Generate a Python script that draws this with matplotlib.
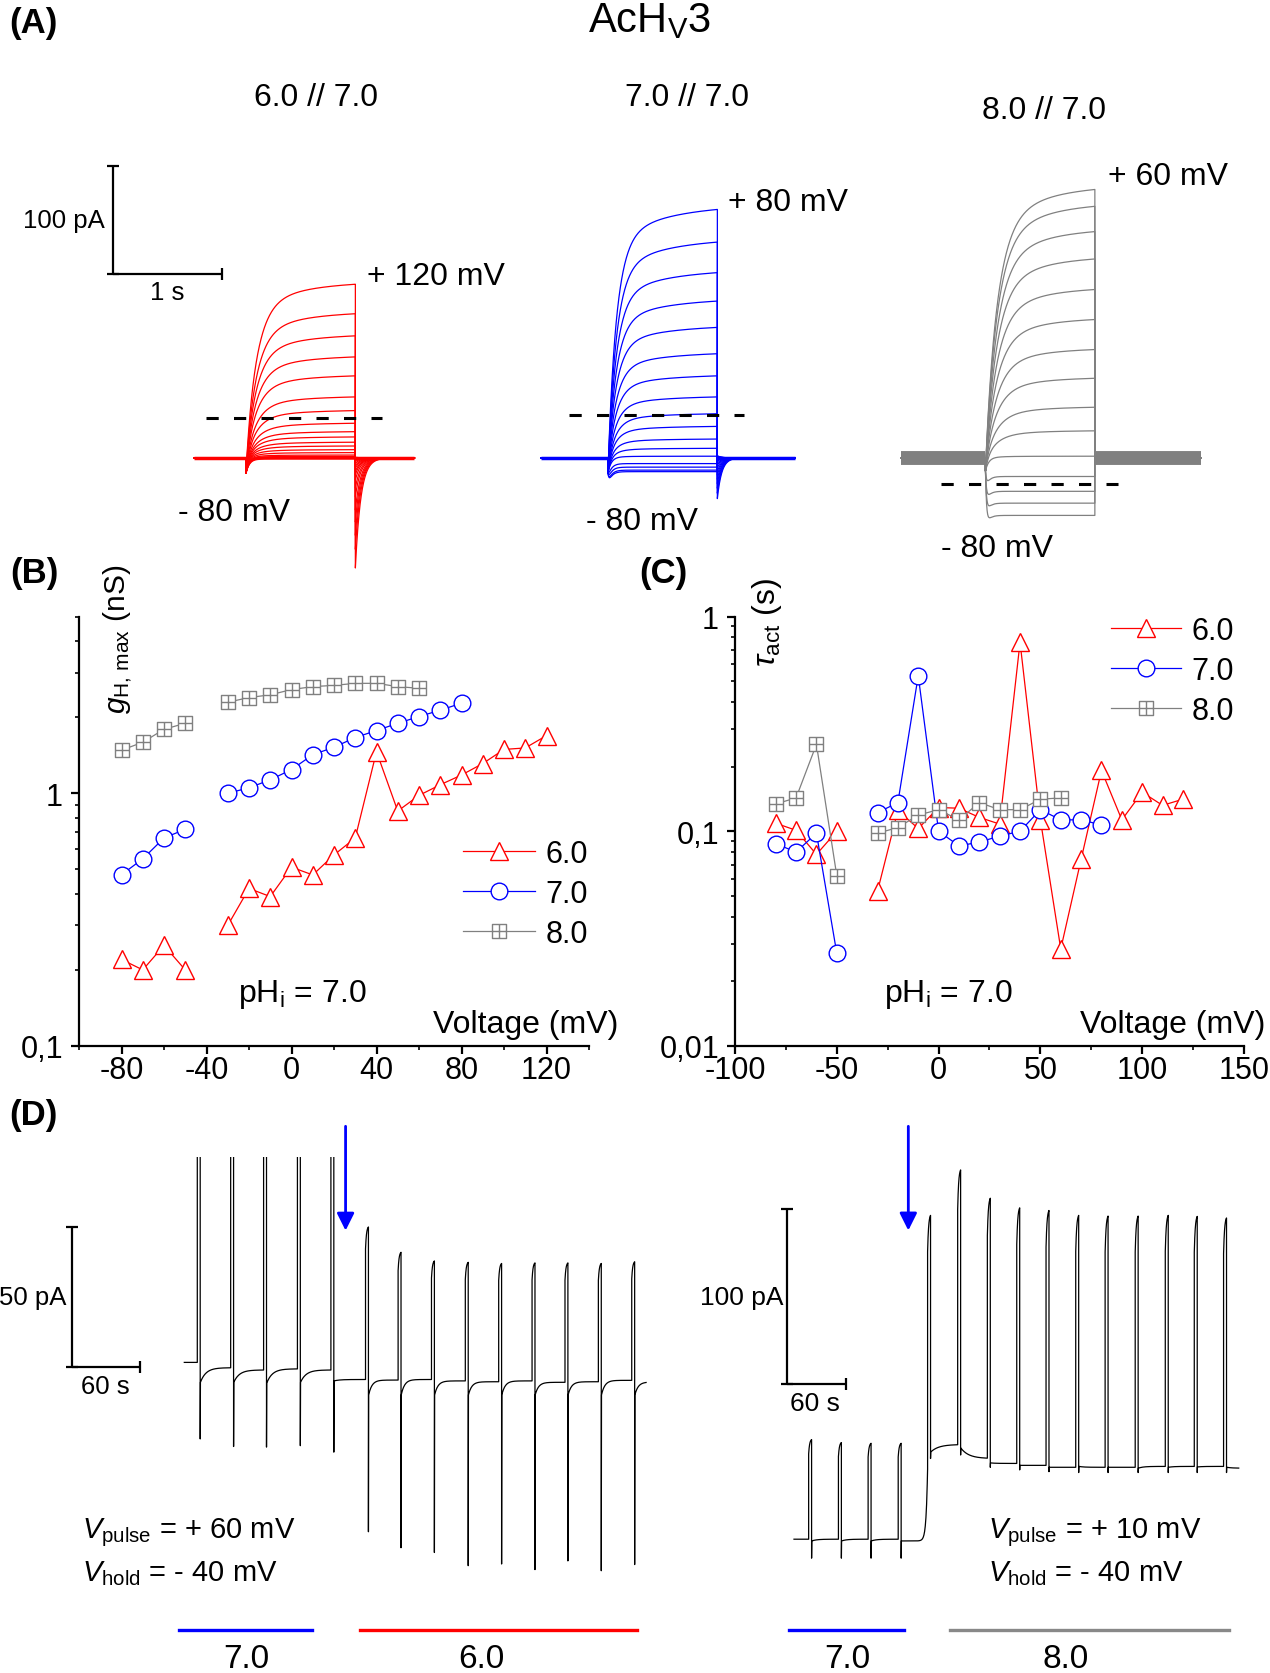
import numpy as np
import matplotlib
matplotlib.use("Agg")
import matplotlib.pyplot as plt
from matplotlib.path import Path
from matplotlib.ticker import LogLocator, NullFormatter

plt.rcParams['font.family'] = ['Liberation Sans', 'DejaVu Sans']
plt.rcParams['mathtext.fontset'] = 'custom'
plt.rcParams['mathtext.rm'] = 'Liberation Sans'
plt.rcParams['mathtext.it'] = 'Liberation Sans:italic'
plt.rcParams['mathtext.bf'] = 'Liberation Sans:bold'
plt.rcParams['axes.unicode_minus'] = False

RED, BLUE, GRAY = '#ff0000', '#0000ff', '#808080'

# ---------------- data ----------------
# (A) current at end of the 1 s step (pA), most positive step first
amp_red = [165, 137, 116, 96, 78, 58, 45, 33, 25, 20, 15, 11.4, 7.9, 5.1, 2.8, 1.5, 0.8, 0.3, 0, -0.5, -1]  # +120..-80 mV
amp_blue = [236, 205, 176, 149, 124, 99, 78, 58, 42, 30, 18, 9.2, 1.7, -5.2, -8.5, -11.3, -12.7]      # +80..-80 mV
amp_gray = [255, 239, 215, 189, 160, 131.5, 103, 75.7, 48.2, 25.8, 1.7, -17.2, -31, -42, -53.4]      # +60..-80 mV
dash_level = [37, 39.6, -24]   # pA, dashed reference lines (red, blue, gray)

# (B) and (C)
volt = [-80, -70, -60, -50, -40, -30, -20, -10, 0, 10, 20, 30, 40, 50, 60, 70, 80, 90, 100, 110, 120]
nan = np.nan
g_60 = [0.22, 0.20, 0.25, 0.20, nan, 0.30, 0.42, 0.39, 0.51, 0.475, 0.57, 0.665, 1.46, 0.85, 0.98,
        1.08, 1.18, 1.31, 1.49, 1.51, 1.69]
g_70 = [0.476, 0.55, 0.665, 0.72, nan, 1.0, 1.05, 1.13, 1.24, 1.42, 1.52, 1.66, 1.77, 1.89, 2.01,
        2.13, 2.27]
g_80 = [1.48, 1.59, 1.79, 1.89, nan, 2.29, 2.39, 2.45, 2.57, 2.64, 2.67, 2.72, 2.72, 2.64, 2.60]
tau_60 = [0.109, 0.101, 0.078, 0.100, nan, 0.0526, 0.125, 0.103, 0.129, 0.128, 0.116, 0.108, 0.759,
          0.113, 0.0283, 0.074, 0.192, 0.113, 0.152, 0.132, 0.141]
tau_70 = [0.0875, 0.080, 0.098, 0.027, nan, 0.122, 0.136, 0.53, 0.100, 0.0855, 0.089, 0.095, 0.100,
          0.126, 0.113, 0.113, 0.107]
tau_80 = [0.134, 0.143, 0.254, 0.062, nan, 0.098, 0.104, 0.119, 0.126, 0.113, 0.136, 0.126, 0.126,
          0.141, 0.143]

# (D) left: pH 7.0 -> 6.0, pulses to +60 mV (times in s, currents in pA)
dl_pulse_t = [11.6, 41.4, 70.8, 101.0, 130.9, 161.8, 190.9, 220.7, 250.9, 280.7, 310.5, 339.9, 369.7, 399.5]
dl_peak = [150, 150, 150, 150, 150, 55.3, 46.2, 43.1, 42.6, 42.2, 42.4, 42.4, 42.2, 42.8]
dl_dip = [-20.7, -23.4, -23.6, -23.1, -25.4, -53.8, -59.5, -61.2, -65.9, -65.3, -67.3, -64.2, -67.7, -65.5]
dl_hold_start = [6.6, -0.5, -0.5, -0.8, -0.5, 0.0, -5, -5, -5, -5, -5, -5, -5, -5, -5]
dl_hold_end = [6.6, 4.7, 3.9, 4.3, 3.9, 0.5, 0.3, 0.5, 0.0, -0.3, 0.0, -0.5, -0.3, 0.2, -0.4]
dl_end = 412.3

# (D) right: pH 7.0 -> 8.0, pulses to +10 mV
dr_pulse_t = [14.9, 45.2, 75.4, 106.0, 135.9, 166.5, 196.7, 226.6, 256.4, 286.6, 316.5, 347.1, 377.7, 407.2, 437.0]
dr_peak = [57.2, 55.5, 55.1, 55.1, 185.7, 211.7, 195.5, 190.0, 188.5, 185.7, 185.3, 185.3, 185.7, 185.1, 184.2]
dr_dip = [-10.8, -10.8, -10.8, -10.8, 46, 48, 41, 39.5, 38.5, 38, 38, 38, 38, 38, 38]
dr_hold_start = [0, -1, -1, -1, -1, 49.7, 52, 43.5, 42.1, 41, 41.5, 41, 40.5, 41, 41.2, 41]
dr_hold_end = [0, 0, 0, 0, 40, 54, 46, 43.2, 42.1, 41, 41, 41, 41.5, 41.5, 41.5, 40.5]
dr_end = 452.4

# ---------------- layout helpers (pixel coords of a 1270x1674 canvas) ----------------
W, H = 1270, 1674


def fx(x):
    return x / W


def fy(y):
    return 1 - y / H


def box(x0, y0, x1, y1):
    return [x0 / W, 1 - y1 / H, (x1 - x0) / W, (y1 - y0) / H]


fig = plt.figure(figsize=(12.7, 16.74), dpi=100)


def label(x, y, s, size, ha='left', **kw):
    fig.text(fx(x), fy(y), s, fontsize=size, ha=ha, va='center', **kw)


def scalebar(ax, x0, y0, dx, dy, lw=1.6):
    ax.plot([x0, x0, x0 + dx], [y0 + dy, y0, y0], color='k', lw=lw, solid_capstyle='butt')
    ax.plot([x0], [y0 + dy], marker='_', ms=8, mew=lw, color='k')
    ax.plot([x0 + dx], [y0], marker='|', ms=8, mew=lw, color='k')
    ax.plot([x0], [y0], marker='_', ms=8, mew=lw, color='k')


# ---------------- panel A ----------------
axA = fig.add_axes(box(0, 150, W, 600))
axA.set_axis_off()
s_per_px, pA_per_px = 1 / 109.4, 1 / 1.075
axA.set_xlim(0, W * s_per_px)
axA.set_ylim(-(600 - 459) * pA_per_px, (459 - 150) * pA_per_px)


def family(ax, t0, pre, post, amps, color, tau, cap, tail_k, tail_tau, base_lw):
    ton = t0 + pre
    toff = ton + 1.0
    s = np.linspace(0, 1.0, 400)
    r = np.linspace(0, post, 300)
    for a in amps:
        if a > 0:
            on = a * (1 - 0.85 * np.exp(-s / tau) - 0.15 * np.exp(-s / 0.5))
        else:
            on = a * (1 - np.exp(-s / 0.01))
        on = on + cap * np.exp(-s / 0.03)
        off = tail_k * a * np.exp(-r / tail_tau)
        ax.plot(np.concatenate([[t0, ton], ton + s, toff + r]),
                np.concatenate([[0, 0], on, off]), color=color, lw=0.9)
    ax.plot([t0, ton], [0, 0], color=color, lw=base_lw, solid_capstyle='butt')
    ax.plot([toff, toff + post], [0, 0], color=color, lw=base_lw, solid_capstyle='butt')


family(axA, 194 * s_per_px, 0.475, 0.54, amp_red, RED, 0.10, -14, -0.62, 0.05, 2.5)
family(axA, 541 * s_per_px, 0.612, 0.71, amp_blue, BLUE, 0.08, -14, -0.16, 0.04, 2.5)
family(axA, 901 * s_per_px, 0.772, 0.97, amp_gray, GRAY, 0.11, -12, 0.0, 0.05, 10)

for lvl, (x0, x1) in zip(dash_level, [(206, 382), (569, 744), (941, 1118)]):
    axA.plot([x0 * s_per_px, x1 * s_per_px], [lvl, lvl], color='k', lw=2.2, dashes=(4, 5))

scalebar(axA, 113 * s_per_px, (459 - 274.5) * pA_per_px, 1.0, 100)

label(9, 24, '(A)', 25, weight='bold')
label(649, 21, r'AcH$_{\rm V}$3', 30, ha='center')
label(316, 98, '6.0 // 7.0', 23, ha='center')
label(687, 98, '7.0 // 7.0', 23, ha='center')
label(1044, 111, '8.0 // 7.0', 23, ha='center')
label(105, 221, '100 pA', 18.5, ha='right')
label(167, 293, '1 s', 18.5, ha='center')
label(367, 277, '+ 120 mV', 23)
label(178, 513, '- 80 mV', 23)
label(728, 203, '+ 80 mV', 23)
label(586, 522, '- 80 mV', 23)
label(1108, 177, '+ 60 mV', 23)
label(941, 549, '- 80 mV', 23)

# ---------------- panels B and C ----------------
boxplus = Path([(-1, -1), (1, -1), (1, 1), (-1, 1), (-1, -1), (0, -1), (0, 1), (-1, 0), (1, 0)],
               [Path.MOVETO, Path.LINETO, Path.LINETO, Path.LINETO, Path.CLOSEPOLY,
                Path.MOVETO, Path.LINETO, Path.MOVETO, Path.LINETO])


def series(ax, ys):
    specs = [(RED, '^', 13, '6.0'), (BLUE, 'o', 12, '7.0'), (GRAY, boxplus, 10, '8.0')]
    for y, (c, m, ms, lab) in zip(ys, specs):
        ax.plot(volt[:len(y)], y, color=c, lw=0.9, marker=m, ms=ms, mfc='white', mec=c, mew=1.0,
                label=lab)


def style(ax, xlim, xmaj, xmin, ylim, ymaj, ylab):
    ax.set_yscale('log')
    ax.set_xlim(*xlim)
    ax.set_ylim(*ylim)
    ax.set_xticks(xmaj)
    ax.set_xticks(xmin, minor=True)
    ax.set_yticks(ymaj)
    ax.set_yticklabels(ylab)
    ax.yaxis.set_minor_locator(LogLocator(base=10, subs=(2, 3, 4, 5, 6, 7, 8, 9)))
    ax.yaxis.set_minor_formatter(NullFormatter())
    for sp in ['top', 'right']:
        ax.spines[sp].set_visible(False)
    for sp in ['left', 'bottom']:
        ax.spines[sp].set_linewidth(1.6)
    ax.tick_params(which='major', direction='out', length=5.5, width=1.6, labelsize=22)
    ax.tick_params(which='minor', direction='out', length=3, width=1.2)
    ax.tick_params(axis='x', which='major', pad=1)
    ax.tick_params(axis='y', which='major', pad=6)


axB = fig.add_axes(box(79, 617.5, 589, 1047))
series(axB, [g_60, g_70, g_80])
style(axB, (-100, 140), [-80, -40, 0, 40, 80, 120], [-100, -60, -20, 20, 60, 100, 140],
      (0.1, 5), [0.1, 1], ['0,1', '1'])
axB.legend(loc='upper left', bbox_to_anchor=(fx(463), fy(840)), bbox_transform=fig.transFigure,
           frameon=False, fontsize=22, handlelength=2.36, handletextpad=0.33, labelspacing=0.32,
           borderpad=0, borderaxespad=0, numpoints=1)

axC = fig.add_axes(box(735, 617.5, 1244, 1047))
series(axC, [tau_60, tau_70, tau_80])
style(axC, (-100, 150), [-100, -50, 0, 50, 100, 150], [-75, -25, 25, 75, 125],
      (0.01, 1), [0.01, 0.1, 1], ['0,01', '0,1', '1'])
axC.legend(loc='upper left', bbox_to_anchor=(fx(1111), fy(617)), bbox_transform=fig.transFigure,
           frameon=False, fontsize=22, handlelength=2.3, handletextpad=0.33, labelspacing=0.32,
           borderpad=0, borderaxespad=0, numpoints=1)

label(10, 573, '(B)', 25, weight='bold')
label(639, 573, '(C)', 25, weight='bold')
fig.text(fx(118), fy(639), r'$g_{\rm H,\,max}$ (nS)', rotation=90, fontsize=21.5, ha='center', va='center')
fig.text(fx(767), fy(623), r'$\tau_{\rm act}$ (s)', rotation=90, fontsize=23, ha='center', va='center')
label(302, 995, r'pH$_{\rm i}$ = 7.0', 23, ha='center')
label(948, 995, r'pH$_{\rm i}$ = 7.0', 23, ha='center')
label(618, 1025, 'Voltage (mV)', 23, ha='right')
label(1265, 1025, 'Voltage (mV)', 23, ha='right')


# ---------------- panel D ----------------
def build_trace(t_end, pulse_t, peak, dip, hold_start, hold_end, taus, width, rise_frac):
    t, y = [], []
    starts = [0.0] + [p + width + 0.2 for p in pulse_t]
    ends = list(pulse_t) + [t_end]
    for i, (a, b) in enumerate(zip(starts, ends)):
        s = np.linspace(a, b, 80)
        if taus[i] > 0:
            f = np.exp(-(s - a) / taus[i])
        else:
            f = 1 - np.exp((s - b) / -taus[i])
        lvl = hold_end[i] + (hold_start[i] - hold_end[i]) * f
        t.extend(s)
        y.extend(lvl)
        if i < len(pulse_t):
            base = lvl[-1]
            u = np.linspace(0, width, 20)
            rise = base + (peak[i] - base) * (1 - (1 - rise_frac) * np.exp(-u / (width / 3)))
            t.extend(pulse_t[i] + u)
            y.extend(rise)
            t.append(pulse_t[i] + width)
            y.append(dip[i])
    return np.array(t), np.array(y)


# left trace: 1.12 px per s, 2.804 px per pA, t=0 at x=184.3, 0 pA at y=1381.9
axDL = fig.add_axes(box(0, 1157.7, 660, 1674))
axDL.set_axis_off()
axDL.set_xlim((0 - 184.3) / 1.12, (660 - 184.3) / 1.12)
axDL.set_ylim((1381.9 - 1674) / 2.804, (1381.9 - 1157.7) / 2.804)
tl, yl = build_trace(dl_end, dl_pulse_t, dl_peak, dl_dip, dl_hold_start, dl_hold_end,
                     [5] * 6 + [3] * 9, 2.6, 0.85)
axDL.plot(tl, yl, color='k', lw=0.9)
scalebar(axDL, -100, 5, 60, 50)
axDL.annotate('', xy=(144, 53.6), xytext=(144, 90.8), annotation_clip=False,
              arrowprops=dict(arrowstyle='-|>', color=BLUE, lw=2, mutation_scale=26, shrinkA=0, shrinkB=0))
axDL.plot([-4.6, 114.2], [-88.8, -88.8], color=BLUE, lw=2.4)
axDL.plot([157, 404], [-88.8, -88.8], color=RED, lw=2.4)

# right trace: 0.983 px per s, 1.754 px per pA, t=0 at x=794, 0 pA at y=1540.2
axDR = fig.add_axes(box(680, 1100, 1270, 1674))
axDR.set_axis_off()
axDR.set_xlim((680 - 794) / 0.983, (1270 - 794) / 0.983)
axDR.set_ylim((1540.2 - 1674) / 1.754, (1540.2 - 1100) / 1.754)
tr, yr = build_trace(dr_end, dr_pulse_t, dr_peak, dr_dip, dr_hold_start, dr_hold_end,
                     [5, 5, 5, 5, -1.5, 8, 8, 5, 5, 5, 5, 5, 5, 5, 5, 5], 3.0, 0.85)
axDR.plot(tr, yr, color='k', lw=0.9)
scalebar(axDR, -7.6, 88.5, 60, 100)
axDR.annotate('', xy=(116.3, 176), xytext=(116.3, 235.4), annotation_clip=False,
              arrowprops=dict(arrowstyle='-|>', color=BLUE, lw=2, mutation_scale=26, shrinkA=0, shrinkB=0))
axDR.plot([-5, 111.7], [-51.8, -51.8], color=BLUE, lw=2.4)
axDR.plot([158.8, 442.8], [-51.8, -51.8], color='#888888', lw=2.4)

label(9, 1116, '(D)', 25, weight='bold')
label(66, 1298, '50 pA', 18.5, ha='right')
label(105, 1387, '60 s', 18.5, ha='center')
label(783, 1298, '100 pA', 19, ha='right')
label(815, 1404, '60 s', 19, ha='center')
label(82, 1533, r'$V_{\rm pulse}$ = + 60 mV', 21)
label(82, 1574, r'$V_{\rm hold}$ = - 40 mV', 21)
label(988, 1533, r'$V_{\rm pulse}$ = + 10 mV', 21)
label(988, 1574, r'$V_{\rm hold}$ = - 40 mV', 21)
label(246, 1660, '7.0', 24, ha='center')
label(481, 1660, '6.0', 24, ha='center')
label(847, 1660, '7.0', 24, ha='center')
label(1066, 1660, '8.0', 24, ha='center')

fig.savefig('out.png', dpi=100)
